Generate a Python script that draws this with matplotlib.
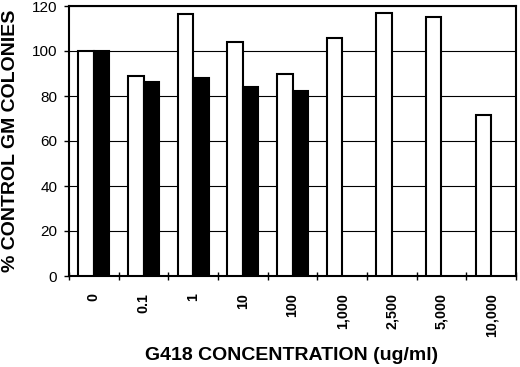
import matplotlib
matplotlib.use("Agg")
import matplotlib.pyplot as plt
import numpy as np

plt.rcParams['font.family'] = ['Liberation Sans', 'DejaVu Sans']

categories = ["0", "0.1", "1", "10", "100", "1,000", "2,500", "5,000", "10,000"]
white_vals = [100, 89, 116.3, 104, 90, 106, 116.7, 115.1, 71.7]
black_vals = [100, 86.4, 88.1, 84.1, 82.4, np.nan, np.nan, np.nan, np.nan]

W, H = 520, 367
fig = plt.figure(figsize=(W/100, H/100), dpi=100)
ax = fig.add_axes([69/W, 1 - 276/H, (516-69)/W, (276-6)/H])

x = np.arange(len(categories))
w = 0.31
ax.bar(x - w/2, white_vals, w, color='white', edgecolor='black', linewidth=1.5, zorder=3)
ax.bar(x + w/2, black_vals, w, color='black', edgecolor='black', linewidth=1.5, zorder=3)

ax.set_xlim(-0.5, len(categories) - 0.5)
ax.set_ylim(0, 120)
ax.set_yticks(np.arange(0, 121, 20))
ax.yaxis.grid(True, color='black', linewidth=0.8, zorder=0)
ax.set_axisbelow(True)

ax.set_xticks(x)
ax.set_xticklabels(categories, rotation=90, fontweight='bold', fontsize=10.3)
ax.tick_params(axis='x', which='major', length=0, pad=12)
ax.set_xticks(np.arange(-0.5, len(categories), 1.0), minor=True)
ax.tick_params(axis='x', which='minor', length=6, width=1, direction='inout')
ax.tick_params(axis='y', length=3.5, width=1, direction='out', labelsize=11, pad=5)

for s in ax.spines.values():
    s.set_linewidth(1.5)
    s.set_color('black')

fig.text(11/W, 1 - 141/H, '% CONTROL GM COLONIES', rotation=90, fontsize=14, fontweight='bold',
         ha='center', va='center')
fig.text(292/W, 1 - 355/H, 'G418 CONCENTRATION (ug/ml)', fontsize=14, fontweight='bold',
         ha='center', va='center')

fig.savefig('out.png', dpi=100)
